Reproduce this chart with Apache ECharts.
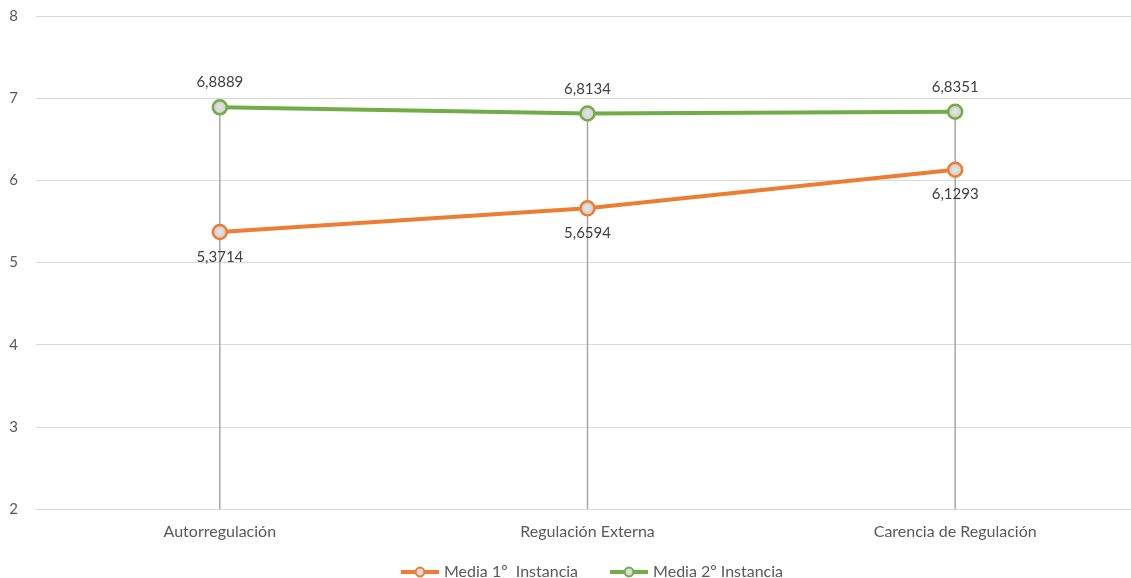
<!DOCTYPE html>
<html>
<head>
<meta charset="utf-8">
<script src="https://cdn.jsdelivr.net/npm/echarts@6/dist/echarts.min.js"></script>
<style>html,body{margin:0;padding:0;background:#fff}#c{width:1131px;height:578px}</style>
</head>
<body>
<div id="c"></div>
<script>
const categories = ['Autorregulación', 'Regulación Externa', 'Carencia de Regulación'];
const media1 = [5.3714, 5.6594, 6.1293];
const media2 = [6.8889, 6.8134, 6.8351];
const yTicks = { min: 2, max: 8, interval: 1 };
const fmt = v => String(v.toFixed(4)).replace('.', ',');
const FONT = 'Lato, "Open Sans", sans-serif';

const chart = echarts.init(document.getElementById('c'));
const symbolFill = {
  type: 'radial', x: 0.5, y: 0.5, r: 0.5,
  colorStops: [{ offset: 0, color: '#e6e6e6' }, { offset: 1, color: '#c8c8c8' }]
};
chart.setOption({
  animation: false,
  textStyle: { fontFamily: FONT },
  grid: { left: 36, top: 16, width: 1103, height: 493, outerBoundsMode: 'none', containLabel: false },
  legend: {
    top: 559, left: 394, itemWidth: 38, itemHeight: 11, itemGap: 30,
    data: ['Media 1º  Instancia', 'Media 2º Instancia'],
    lineStyle: { width: 4 },
    itemStyle: { borderWidth: 2 },
    textStyle: { color: '#595959', fontSize: 16, fontFamily: FONT }
  },
  xAxis: {
    type: 'category', data: categories, boundaryGap: true,
    axisLine: { lineStyle: { color: '#d9d9d9', width: 1 } },
    axisTick: { show: false },
    axisLabel: { color: '#595959', fontSize: 16, margin: 15, fontFamily: FONT }
  },
  yAxis: {
    type: 'value', min: yTicks.min, max: yTicks.max, interval: yTicks.interval,
    axisLine: { show: false }, axisTick: { show: false },
    axisLabel: { color: '#595959', fontSize: 15, margin: 18, fontFamily: FONT },
    splitLine: { lineStyle: { color: '#d9d9d9', width: 1 } }
  },
  series: [
    {
      name: 'drop', type: 'bar', data: media2, barWidth: 1.5, silent: true,
      itemStyle: { color: '#a6a6a6' }, z: 1, legendHoverLink: false
    },
    {
      name: 'Media 1º  Instancia', type: 'line', data: media1, z: 3,
      lineStyle: { color: '#ED7D31', width: 4 },
      itemStyle: { color: symbolFill, borderColor: '#ED7D31', borderWidth: 2.5 },
      symbol: 'circle', symbolSize: 14,
      label: { show: true, position: 'bottom', distance: 9, color: '#404040', fontSize: 15, fontFamily: FONT, formatter: p => fmt(p.value) }
    },
    {
      name: 'Media 2º Instancia', type: 'line', data: media2, z: 3,
      lineStyle: { color: '#70AD47', width: 4 },
      itemStyle: { color: symbolFill, borderColor: '#70AD47', borderWidth: 2.5 },
      symbol: 'circle', symbolSize: 14,
      label: { show: true, position: 'top', distance: 9, color: '#404040', fontSize: 15, fontFamily: FONT, formatter: p => fmt(p.value) }
    }
  ]
});
</script>
</body>
</html>
